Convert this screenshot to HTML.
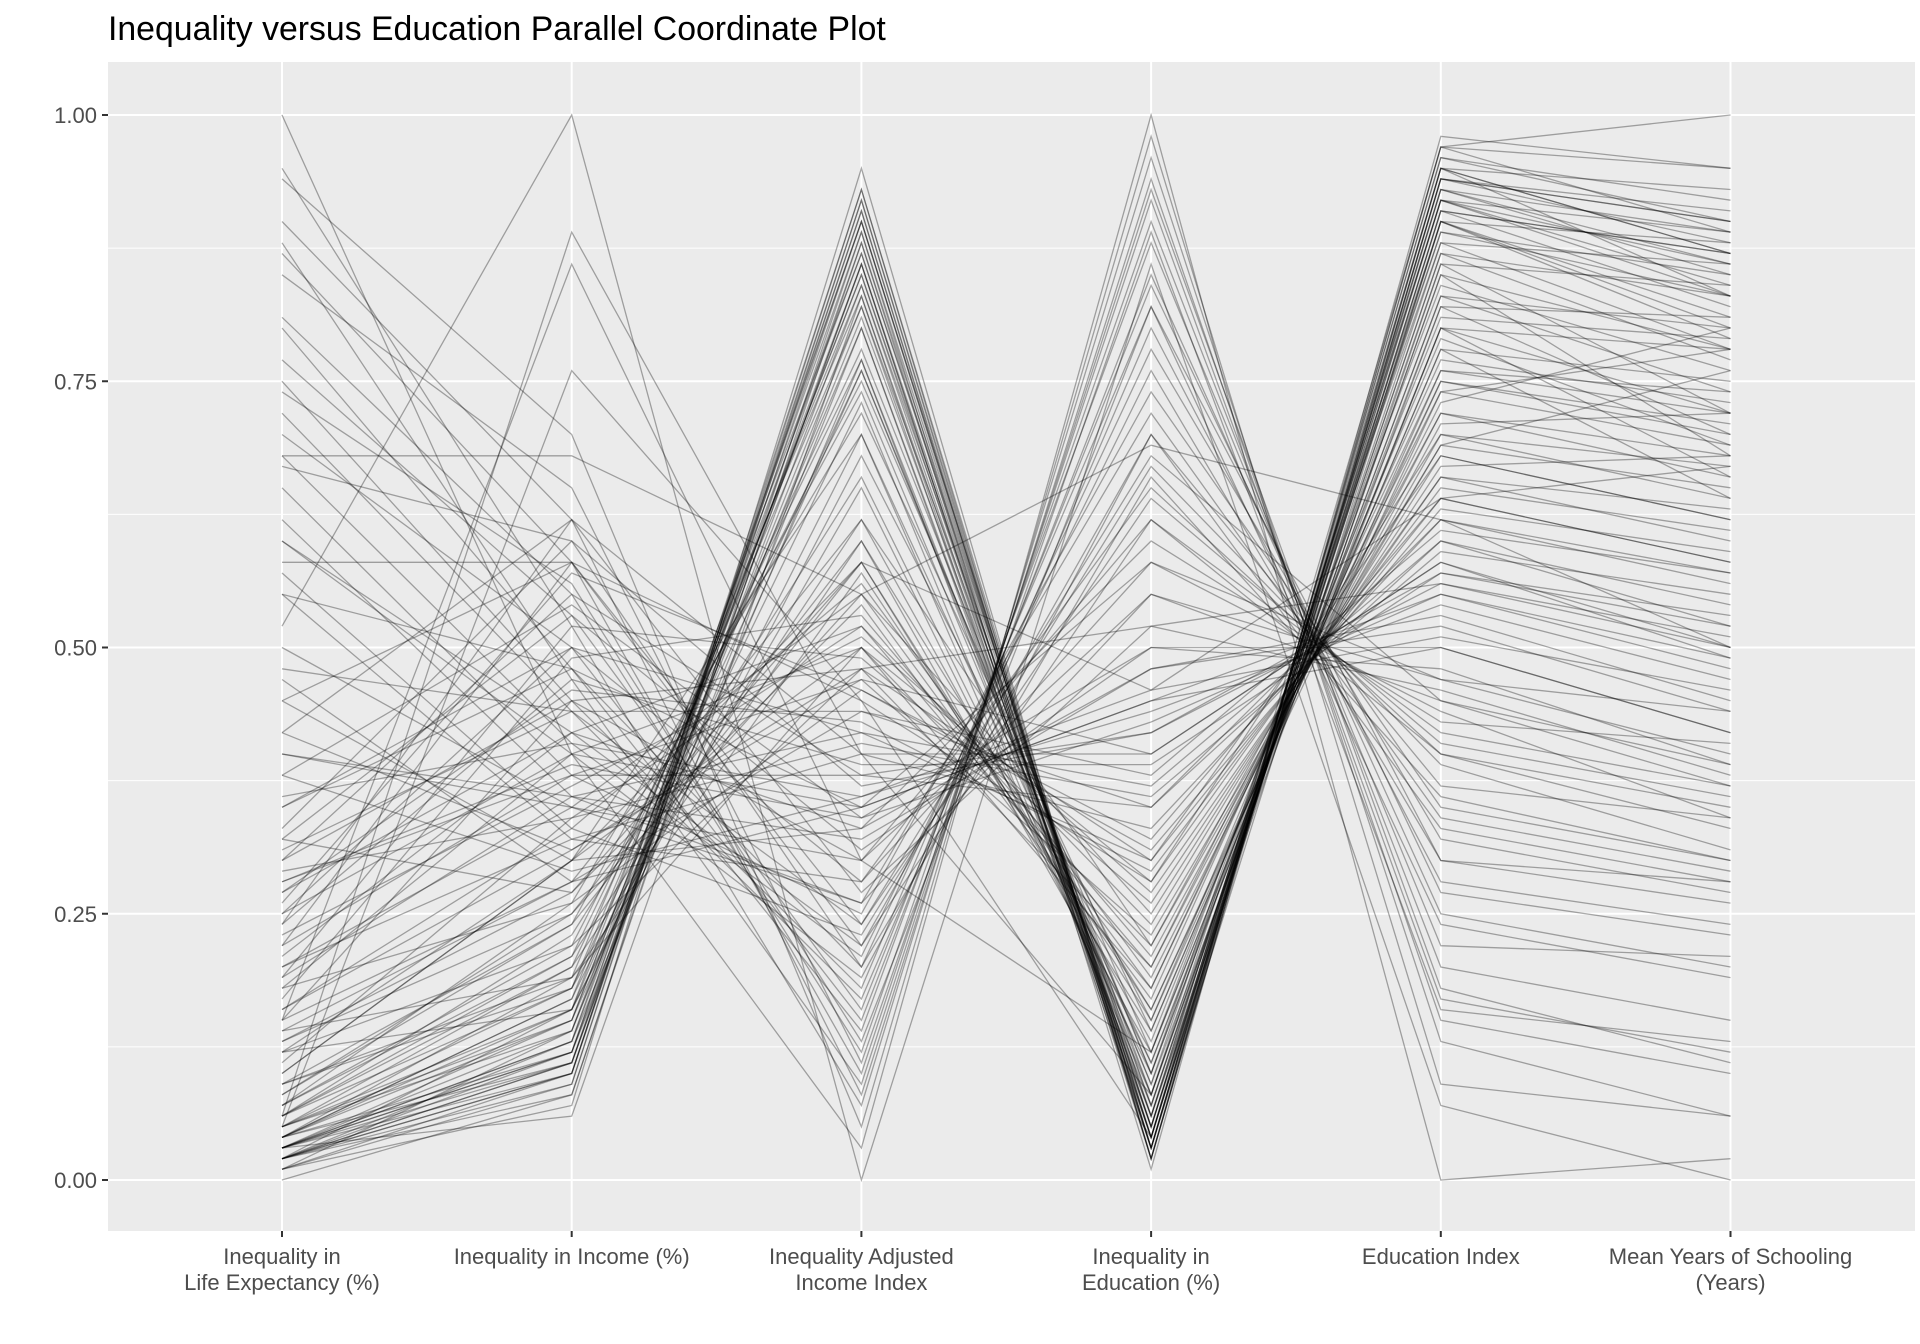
<!DOCTYPE html>
<html><head><meta charset="utf-8"><style>
html,body{margin:0;padding:0;background:#fff;}
svg{display:block;font-family:"Liberation Sans",Arial,sans-serif;}
</style></head><body>
<svg id="chart" width="1920" height="1344" viewBox="0 0 1920 1344">
<text x="108" y="40" font-size="33.8" fill="#000">Inequality versus Education Parallel Coordinate Plot</text>
<rect x="108" y="62" width="1807" height="1169" fill="#ebebeb"/>
<g id="grid"></g>
<g id="lines"></g>
<g id="axes"></g>
</svg>
<script>
const dims = ["Inequality in\nLife Expectancy (%)","Inequality in Income (%)","Inequality Adjusted\nIncome Index","Inequality in\nEducation (%)","Education Index","Mean Years of Schooling\n(Years)"];
const yTicks = [0,0.25,0.5,0.75,1];
const yTickLabels = ["0.00","0.25","0.50","0.75","1.00"];
const lifeExp = [0.02,0.01,0.03,0.02,0.04,0.02,0.05,0.03,0.01,0.06,0.02,0.04,0.03,0.07,0.02,0.05,0.08,0.03,0.01,0.04,0.06,0.02,0.03,0.10,0.05,0.02,0.04,0.07,0.03,0.09,0.12,0.02,0.05,0.06,0.15,0.04,0.00,0.03,
0.20,0.15,0.25,0.18,0.30,0.12,0.22,0.28,0.35,0.14,0.24,0.31,0.19,0.40,0.16,0.27,0.33,0.21,0.38,0.13,0.26,0.29,0.17,0.36,0.23,0.68,0.42,0.32,
0.75,0.81,0.90,0.65,0.94,0.55,0.70,0.87,0.60,1.00,0.80,0.67,0.50,0.95,0.72,0.58,0.85,0.62,0.77,0.45,0.52,0.68,0.88,0.47,0.74,
0.05,0.08,0.10,0.12,0.06,0.15,0.04,0.20,0.09,0.25,0.03,0.18,0.11,0.30,0.07,0.22,0.14,0.35,0.02,0.27,0.45,0.40,0.55,0.04,0.13,0.32,0.06,0.48,0.19,0.01,0.38,0.09,0.60,0.24,0.03,0.42,0.16,0.05,0.57,0.28];
const incomeIneq = [0.10,0.09,0.12,0.08,0.15,0.11,0.18,0.14,0.07,0.20,0.10,0.17,0.13,0.22,0.09,0.16,0.24,0.12,0.10,0.19,0.21,0.11,0.15,0.30,0.14,0.13,0.11,0.26,0.10,0.18,0.16,0.16,0.76,0.89,0.86,0.12,0.08,0.06,
0.35,0.45,0.50,0.40,0.55,0.30,0.58,0.38,0.48,0.28,0.62,0.44,0.52,0.36,0.33,0.46,0.60,0.42,0.54,0.25,0.57,0.34,0.49,0.41,0.37,0.68,0.31,0.27,
0.45,0.55,0.62,0.38,0.70,0.32,0.50,0.58,0.42,0.40,0.48,0.60,0.35,0.52,0.44,0.58,0.65,0.36,0.53,0.30,1.00,0.41,0.47,0.28,0.56,
0.20,0.25,0.30,0.22,0.18,0.28,0.16,0.32,0.24,0.40,0.13,0.26,0.34,0.45,0.21,0.38,0.19,0.50,0.12,0.42,0.58,0.35,0.48,0.17,0.27,0.53,0.23,0.44,0.36,0.14,0.29,0.19,0.40,0.47,0.11,0.62,0.31,0.15,0.33,0.39];
const iaIncome = [0.92,0.93,0.90,0.88,0.85,0.91,0.82,0.87,0.95,0.78,0.90,0.84,0.86,0.75,0.92,0.80,0.74,0.89,0.93,0.83,0.77,0.88,0.85,0.70,0.81,0.90,0.86,0.72,0.91,0.76,0.68,0.87,0.45,0.40,0.30,0.84,0.89,0.83,
0.55,0.48,0.42,0.50,0.38,0.58,0.45,0.47,0.35,0.62,0.40,0.44,0.49,0.32,0.56,0.43,0.37,0.52,0.34,0.60,0.46,0.41,0.53,0.36,0.51,0.55,0.48,0.58,
0.18,0.12,0.08,0.25,0.05,0.28,0.15,0.10,0.22,0.03,0.14,0.20,0.30,0.07,0.17,0.24,0.11,0.26,0.16,0.33,0.00,0.21,0.09,0.35,0.13,
0.60,0.55,0.50,0.48,0.65,0.44,0.70,0.40,0.58,0.35,0.77,0.46,0.52,0.30,0.62,0.38,0.50,0.28,0.80,0.33,0.22,0.26,0.20,0.73,0.54,0.31,0.66,0.24,0.42,0.82,0.36,0.57,0.19,0.39,0.86,0.27,0.47,0.76,0.23,0.34];
const eduIneq = [0.03,0.02,0.04,0.05,0.06,0.03,0.08,0.05,0.02,0.10,0.04,0.07,0.03,0.12,0.02,0.06,0.09,0.04,0.03,0.05,0.08,0.02,0.04,0.11,0.07,0.03,0.05,0.14,0.02,0.10,0.15,0.06,0.04,0.08,0.12,0.04,0.01,0.03,
0.25,0.20,0.30,0.18,0.35,0.15,0.28,0.40,0.45,0.22,0.33,0.38,0.26,0.48,0.19,0.29,0.42,0.24,0.50,0.16,0.31,0.36,0.21,0.44,0.27,0.69,0.52,0.46,
0.82,0.90,0.94,0.74,0.98,0.65,0.85,0.92,0.70,1.00,0.88,0.78,0.62,0.96,0.80,0.68,0.89,0.72,0.84,0.60,0.86,0.76,0.93,0.58,0.82,
0.12,0.18,0.22,0.30,0.10,0.35,0.08,0.40,0.14,0.45,0.06,0.32,0.20,0.55,0.13,0.42,0.28,0.58,0.05,0.48,0.62,0.55,0.66,0.07,0.17,0.50,0.11,0.64,0.37,0.04,0.46,0.16,0.70,0.39,0.03,0.52,0.23,0.09,0.67,0.43];
const eduIndex = [0.95,0.97,0.94,0.93,0.92,0.96,0.90,0.91,0.97,0.88,0.95,0.89,0.93,0.84,0.94,0.86,0.82,0.92,0.96,0.90,0.85,0.95,0.91,0.80,0.87,0.94,0.93,0.78,0.95,0.83,0.79,0.92,0.91,0.85,0.80,0.97,0.98,0.90,
0.68,0.72,0.64,0.75,0.60,0.76,0.66,0.58,0.55,0.70,0.62,0.61,0.67,0.52,0.73,0.65,0.57,0.69,0.50,0.74,0.63,0.59,0.71,0.54,0.66,0.62,0.56,0.64,
0.30,0.20,0.15,0.35,0.09,0.40,0.25,0.17,0.37,0.00,0.22,0.32,0.42,0.13,0.28,0.45,0.16,0.34,0.27,0.43,0.07,0.30,0.18,0.47,0.24,
0.80,0.76,0.72,0.68,0.83,0.62,0.86,0.58,0.78,0.50,0.88,0.64,0.74,0.45,0.81,0.56,0.70,0.44,0.90,0.53,0.40,0.47,0.36,0.87,0.77,0.48,0.82,0.41,0.60,0.92,0.51,0.75,0.33,0.57,0.94,0.46,0.69,0.89,0.39,0.55];
const schooling = [0.87,0.95,0.90,0.85,0.83,0.92,0.80,0.87,0.89,0.78,0.93,0.83,0.86,0.76,0.88,0.72,0.70,0.84,0.90,0.79,0.68,0.87,0.82,0.66,0.77,0.91,0.89,0.64,0.83,0.74,0.69,0.86,0.87,0.78,0.72,1.00,0.95,0.81,
0.62,0.66,0.58,0.70,0.52,0.74,0.60,0.50,0.49,0.64,0.56,0.57,0.68,0.44,0.80,0.61,0.53,0.76,0.42,0.78,0.59,0.55,0.72,0.47,0.63,0.50,0.51,0.67,
0.26,0.15,0.10,0.30,0.06,0.35,0.20,0.12,0.34,0.02,0.21,0.27,0.37,0.06,0.24,0.39,0.13,0.29,0.23,0.41,0.00,0.28,0.11,0.44,0.19,
0.78,0.72,0.68,0.62,0.80,0.57,0.84,0.49,0.75,0.42,0.86,0.58,0.69,0.37,0.79,0.50,0.67,0.34,0.88,0.45,0.33,0.40,0.30,0.83,0.73,0.39,0.81,0.36,0.54,0.89,0.46,0.71,0.28,0.52,0.90,0.38,0.65,0.85,0.31,0.48];
const series = [lifeExp,incomeIneq,iaIncome,eduIneq,eduIndex,schooling];

const NS="http://www.w3.org/2000/svg";
const axX = i => 282 + i*289.7;
const yS = v => 1180 - v*1065;
function mk(tag, attrs, parent){const e=document.createElementNS(NS,tag);for(const k in attrs)e.setAttribute(k,attrs[k]);parent.appendChild(e);return e;}
const grid=document.getElementById('grid'), lines=document.getElementById('lines'), axes=document.getElementById('axes');
for(let i=0;i<yTicks.length-1;i++){
  const m=(yTicks[i]+yTicks[i+1])/2;
  const g=mk('line',{x1:108,x2:1915,y1:yS(m),y2:yS(m),stroke:'#fff','stroke-width':1},grid);
  
  
}
yTicks.forEach((t,i)=>{
  const g=mk('line',{x1:108,x2:1915,y1:yS(t),y2:yS(t),stroke:'#fff','stroke-width':2},grid);
  
  
  const tk=mk('line',{x1:102,x2:108,y1:yS(t),y2:yS(t),stroke:'#333','stroke-width':2},axes);
  
  
  const tx=mk('text',{x:97,y:yS(t)+8,'text-anchor':'end','font-size':22,fill:'#4d4d4d'},axes);
  tx.textContent=yTickLabels[i];
  
  
});
dims.forEach((d,i)=>{
  const x=axX(i);
  const g=mk('line',{x1:x,x2:x,y1:62,y2:1231,stroke:'#fff','stroke-width':2},grid);
  
  
  const tk=mk('line',{x1:x,x2:x,y1:1231,y2:1237,stroke:'#333','stroke-width':2},axes);
  
  
  d.split('\n').forEach((ln,j)=>{
    const t=mk('text',{x:x,y:1264+j*26,'text-anchor':'middle','font-size':22,fill:'#4d4d4d'},axes);
    t.textContent=ln;
    
    
  });
});
for(let r=0;r<lifeExp.length;r++){
  const pts=series.map((s,i)=>axX(i).toFixed(1)+','+yS(s[r]).toFixed(1)).join(' ');
  const p=mk('polyline',{points:pts,fill:'none',stroke:'rgba(0,0,0,0.33)','stroke-width':1.3},lines);
  
  
}
</script>
</body></html>
